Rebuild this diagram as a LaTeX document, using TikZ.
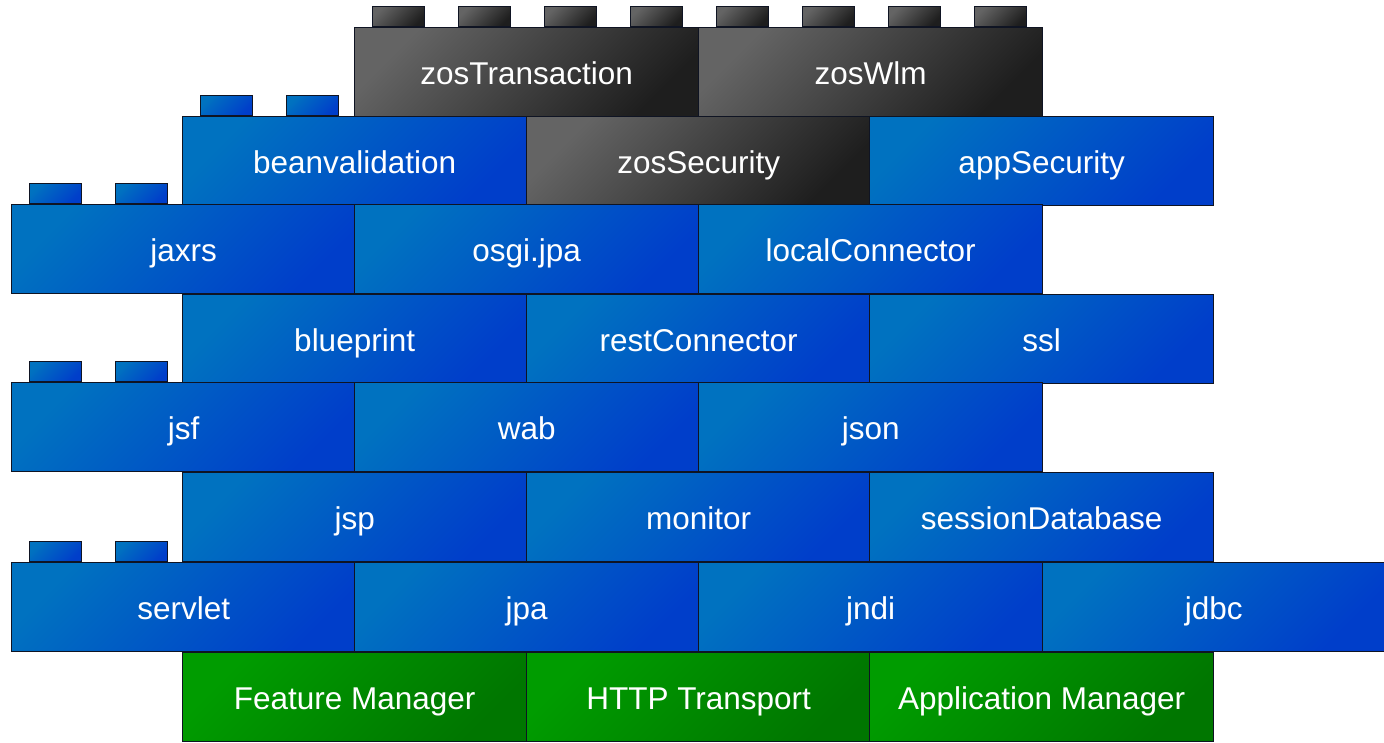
\documentclass[tikz,border=0pt]{standalone}
\usepackage{fontspec}
\setmainfont{Liberation Sans}
\definecolor{blueL}{RGB}{0,114,192}
\definecolor{blueD}{RGB}{0,62,202}
\definecolor{grayL}{RGB}{100,100,100}
\definecolor{grayD}{RGB}{30,30,30}
\definecolor{greenL}{RGB}{0,156,0}
\definecolor{greenD}{RGB}{0,118,0}
\definecolor{edge}{RGB}{15,20,35}
\tikzset{
  brickbase/.style={draw=edge, line width=1.3pt, anchor=north west, inner sep=0pt,
    minimum width=344pt, minimum height=89pt, text=white,
    text height=24pt, text depth=0pt,
    font=\fontsize{31.5}{36}\selectfont},
  bluebrick/.style={brickbase, top color=blueL, bottom color=blueD, shading angle=45},
  graybrick/.style={brickbase, top color=grayL, bottom color=grayD, shading angle=45},
  greenbrick/.style={brickbase, top color=greenL, bottom color=greenD, shading angle=45},
  studbase/.style={draw=edge, line width=1.3pt, anchor=south west, inner sep=0pt,
    minimum width=52pt, minimum height=20pt},
  bluestud/.style={studbase, top color=blueL, bottom color=blueD, shading angle=45},
  graystud/.style={studbase, top color=grayL, bottom color=grayD, shading angle=45},
}
\newcommand{\legobrick}[5]{\node[#4brick] (#1) at (#2,#3) {#5};}
\newcommand{\legostuds}[4]{%
  \node[#4stud] (#1s1) at (#2+18,#3) {};
  \node[#4stud] (#1s2) at (#2+104,#3) {};}
\newcommand{\legostudsfour}[4]{%
  \node[#4stud] (#1s1) at (#2+18,#3) {};
  \node[#4stud] (#1s2) at (#2+104,#3) {};
  \node[#4stud] (#1s3) at (#2+190,#3) {};
  \node[#4stud] (#1s4) at (#2+276,#3) {};}
\begin{document}
\begin{tikzpicture}[x=1pt,y=-1pt]
\useasboundingbox (0,0) rectangle (1384,743);
% studs
\legostudsfour{zt}{354}{27}{gray}
\legostudsfour{zw}{698}{27}{gray}
\legostuds{bv}{182}{116}{blue}
\legostuds{as}{869}{116}{blue}
\legostuds{jx}{11}{204}{blue}
\legostuds{ss}{869}{294}{blue}
\legostuds{jf}{11}{382}{blue}
\legostuds{sd}{869}{472}{blue}
\legostuds{sv}{11}{562}{blue}
\legostuds{jd}{1042}{562}{blue}
% top row
\legobrick{zt}{354}{27}{gray}{zosTransaction}
\legobrick{zw}{698}{27}{gray}{zosWlm}
% row 2
\legobrick{bv}{182}{116}{blue}{beanvalidation}
\legobrick{zs}{526}{116}{gray}{zosSecurity}
\legobrick{as}{869}{116}{blue}{appSecurity}
% row 3
\legobrick{jx}{11}{204}{blue}{jaxrs}
\legobrick{oj}{354}{204}{blue}{osgi.jpa}
\legobrick{lc}{698}{204}{blue}{localConnector}
% row 4
\legobrick{bp}{182}{294}{blue}{blueprint}
\legobrick{rc}{526}{294}{blue}{restConnector}
\legobrick{ss}{869}{294}{blue}{ssl}
% row 5
\legobrick{jf}{11}{382}{blue}{jsf}
\legobrick{wb}{354}{382}{blue}{wab}
\legobrick{js}{698}{382}{blue}{json}
% row 6
\legobrick{jp}{182}{472}{blue}{jsp}
\legobrick{mo}{526}{472}{blue}{monitor}
\legobrick{sd}{869}{472}{blue}{sessionDatabase}
% row 7
\legobrick{sv}{11}{562}{blue}{servlet}
\legobrick{ja}{354}{562}{blue}{jpa}
\legobrick{jn}{698}{562}{blue}{jndi}
\node[bluebrick, minimum width=342pt] (jd) at (1042,562) {jdbc};
% base row
\legobrick{fm}{182}{652}{green}{Feature Manager}
\legobrick{ht}{526}{652}{green}{HTTP Transport}
\legobrick{am}{869}{652}{green}{Application Manager}
\end{tikzpicture}
\end{document}
